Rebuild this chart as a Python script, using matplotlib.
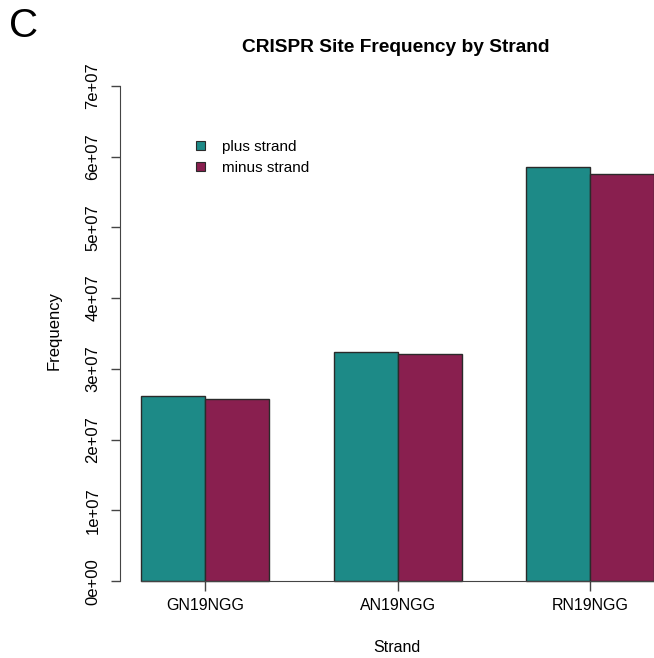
import matplotlib
matplotlib.use("Agg")
import matplotlib.pyplot as plt
from matplotlib.patches import Patch

plt.rcParams['font.family'] = ['Liberation Sans', 'DejaVu Sans']

# data
sites = ["GN19NGG", "AN19NGG", "RN19NGG"]
plus_strand = [2.62e7, 3.24e7, 5.85e7]
minus_strand = [2.57e7, 3.21e7, 5.75e7]
y_ticks = [0, 1e7, 2e7, 3e7, 4e7, 5e7, 6e7, 7e7]
y_tick_labels = ["0e+00", "1e+07", "2e+07", "3e+07", "4e+07", "5e+07", "6e+07", "7e+07"]

teal = "#1d8a87"
maroon = "#891f4f"
edge = "#2a2a2a"

W, H = 654, 658
fig = plt.figure(figsize=(W / 100, H / 100), dpi=100)

# R barplot layout: bars width 1, space=c(0,1) -> groups at 1-3, 4-6, 7-9
x_lo, x_hi = 0.68, 9.32
unit = 64.17
left_px, bottom_px, top_px = 141.0 - 0.32 * unit, 601.0, 66.0
ax = fig.add_axes([left_px / W, 1 - bottom_px / H,
                   (x_hi - x_lo) * unit / W, (bottom_px - top_px) / H])

plus_x = [1 + 3 * i for i in range(len(sites))]
minus_x = [2 + 3 * i for i in range(len(sites))]
centers = [2 + 3 * i for i in range(len(sites))]

ax.bar(plus_x, plus_strand, width=1, align="edge", color=teal,
       edgecolor=edge, linewidth=1.0, zorder=2)
ax.bar(minus_x, minus_strand, width=1, align="edge", color=maroon,
       edgecolor=edge, linewidth=1.0, zorder=2)

ax.set_xlim(x_lo, x_hi)
ax.set_ylim(-0.28e7, 7.28e7)

for s in ["top", "right"]:
    ax.spines[s].set_visible(False)
ax.spines["left"].set_bounds(0, 7e7)
ax.spines["left"].set_color("#444444")
ax.spines["bottom"].set_position(("data", 0))
ax.spines["bottom"].set_bounds(1, x_hi)
ax.spines["bottom"].set_color("#444444")

ax.set_yticks(y_ticks)
ax.set_yticklabels(y_tick_labels, rotation=90, va="center")
ax.set_xticks(centers)
ax.set_xticklabels(sites)
ax.tick_params(axis="y", length=6.5, width=1, color="#444444", pad=8, labelsize=12)
ax.tick_params(axis="x", length=7, width=1, color="#444444", pad=5, labelsize=11.5)

fig.text(396 / W, 1 - 47 / H, "CRISPR Site Frequency by Strand",
         ha="center", va="center", fontsize=13.8, fontweight="bold")
fig.text(54 / W, 1 - 331 / H, "Frequency", rotation=90,
         ha="center", va="center", fontsize=12)
fig.text(397 / W, 1 - 648 / H, "Strand", ha="center", va="center", fontsize=11.5)
fig.text(9 / W, 1 - 26 / H, "C", ha="left", va="center", fontsize=29)

handles = [Patch(facecolor=teal, edgecolor=edge, linewidth=0.8),
           Patch(facecolor=maroon, edgecolor=edge, linewidth=0.8)]
fig.legend(handles, ["plus strand", "minus strand"], loc="upper left",
           bbox_to_anchor=(196 / W, 1 - 140 / H), frameon=False, fontsize=11,
           handlelength=0.6, handleheight=0.6, handletextpad=1.1,
           labelspacing=0.45, borderpad=0, borderaxespad=0)

fig.savefig("out.png", dpi=100)
